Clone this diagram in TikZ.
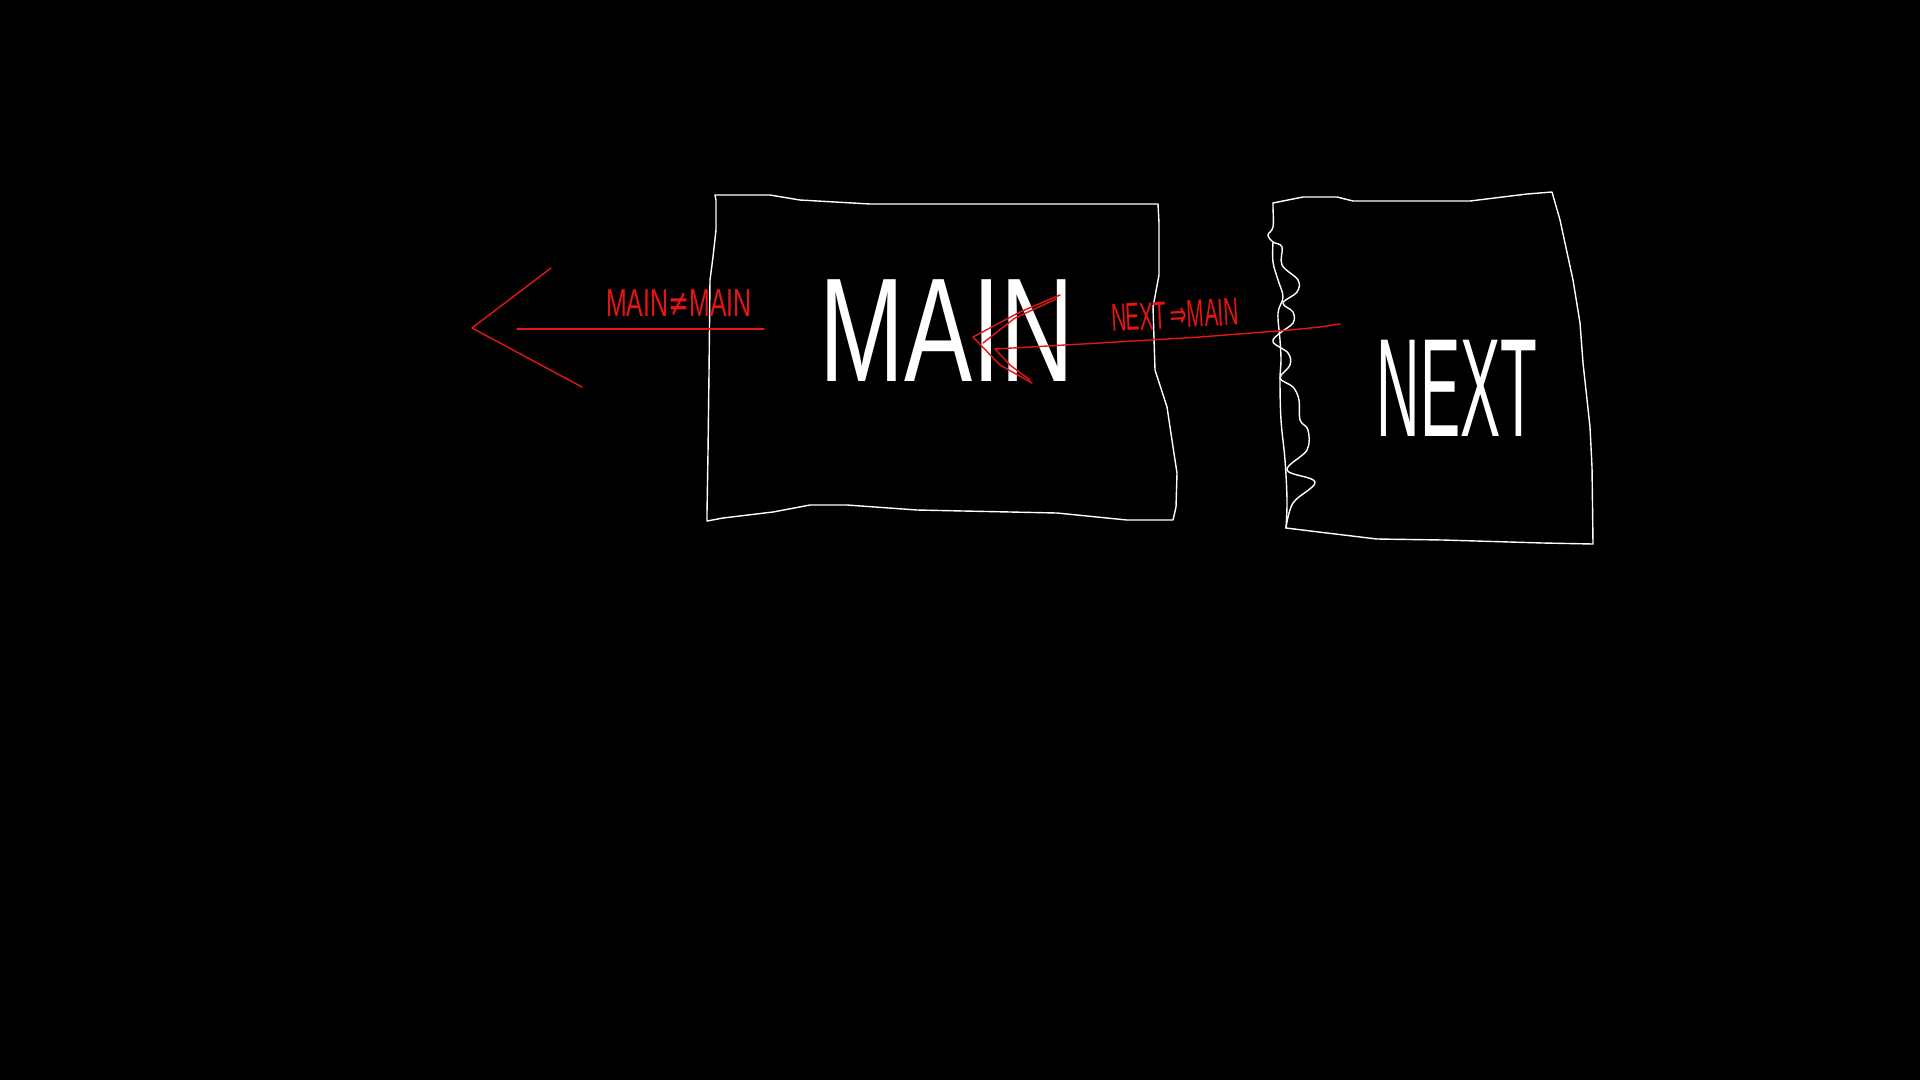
\documentclass[tikz,border=0pt]{standalone}
\usepackage{fontspec}
\setmainfont{Liberation Sans}
\newfontfamily\symfont{DejaVu Sans}
\definecolor{inkred}{RGB}{230,20,20}
\tikzset{
  sketch/.style={draw=white, line width=1.4pt, line join=round, line cap=round},
  redink/.style={draw=inkred, line width=1.4pt, line join=round, line cap=round},
  bigword/.style={text=white, inner sep=0pt, anchor=center},
  redword/.style={text=inkred, inner sep=0pt, anchor=center}
}
\begin{document}
\begin{tikzpicture}[x=1pt,y=-1pt]
\fill[black] (0,0) rectangle (1920,1080);
\useasboundingbox (0,0) rectangle (1920,1080);

% MAIN box (hand drawn)
\draw[sketch] (715,195) -- (770,195) -- (800,200) -- (870,204) -- (1007,204) -- (1158,204)
  -- (1159,223) -- (1159,275) -- (1153,307) -- (1155,370) -- (1167,407) -- (1173,447)
  -- (1177,473) -- (1176,507) -- (1173,520)
  -- (1127,520) -- (1057,513) -- (917,510) -- (847,505) -- (810,505) -- (773,512)
  -- (723,518) -- (707,521)
  -- (707,513) -- (708,453) -- (709,373) -- (710,280) -- (713,257) -- (716,230)
  -- (716,200) -- cycle;

% NEXT box (hand drawn)
\draw[sketch] (1273,203) -- (1303,197) -- (1337,197) -- (1353,201) -- (1393,201)
  -- (1470,201) -- (1527,194) -- (1552,192)
  -- (1560,220) -- (1573,280) -- (1580,323) -- (1583,363) -- (1590,427) -- (1592,467)
  -- (1593,544)
  -- (1543,543) -- (1443,540) -- (1377,539) -- (1327,533) -- (1286,528);
% wavy left edge
\draw[sketch] plot[smooth, tension=0.6] coordinates {
  (1286,528) (1293,503) (1315,482) (1287,470) (1307,450) (1308,430)
  (1300,420) (1299,400) (1293,387) (1280,378) (1290,365) (1288,353)
  (1273,342) (1280,333) (1293,323) (1293,312) (1283,303)
  (1297,292) (1298,280) (1282,265) (1282,247) (1273,242)
  (1268,235) (1273,227) (1273,207) (1273,203)};
\draw[sketch] plot[smooth, tension=0.6] coordinates {
  (1273,242) (1273,262) (1278,280) (1283,297) (1278,313)
  (1280,340) (1281,360) (1280,380) (1281,420) (1285,460) (1287,500) (1286,528)};

% box texts
\node[bigword, font=\fontsize{148}{148}\selectfont] (maintext) at (947,331)
  {\scalebox{0.69}[1]{MAIN}};
\node[bigword, font=\fontsize{140}{140}\selectfont] (nexttext) at (1457,388)
  {\scalebox{0.43}[1]{NEXT}};

% left arrow: MAIN -> outside
\coordinate (a1s) at (764,329);
\coordinate (a1e) at (517,329);
\draw[redink] (a1s) -- (a1e);
\coordinate (h1tip) at (472,328);
\draw[redink] (551,268) -- (h1tip) -- (582,387);
\node[redword, font=\fontsize{39}{39}\selectfont] (lbl1) at (679,303)
  {\scalebox{0.64}[1]{MAIN{\symfont ≠}MAIN}};

% right arrow: NEXT -> MAIN
\coordinate (a2s) at (1340,324);
\coordinate (a2e) at (995,349);
\draw[redink] (a2s) -- (1320,327) -- (1290,330) -- (1200,337) -- (1100,343) -- (a2e);
\coordinate (h2tip) at (973,337);
\draw[redink] (1060,295) -- (1020,312) -- (h2tip) -- (1000,365) -- (1032,383);
\draw[redink] (1056,299) -- (1015,318) -- (983,343);
\draw[redink] (995,349) -- (1010,365) -- (1030,380);
\node[redword, font=\fontsize{39}{39}\selectfont, rotate=3] (lbl2) at (1175,315)
  {\scalebox{0.53}[1]{NEXT\,{\symfont ⇒}MAIN}};
\end{tikzpicture}
\end{document}
